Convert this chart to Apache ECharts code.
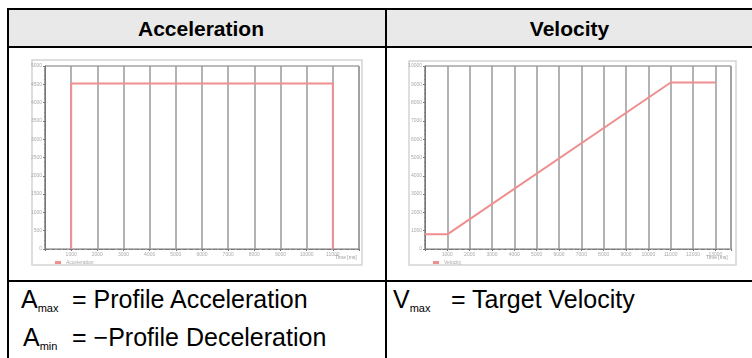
<!DOCTYPE html>
<html>
<head>
<meta charset="utf-8">
<script src="https://cdn.jsdelivr.net/npm/echarts@6/dist/echarts.min.js"></script>
<style>
  html, body { margin: 0; padding: 0; background: #fff; }
  #page { position: relative; width: 752px; height: 358px; overflow: hidden; font-family: "Liberation Sans", Arial, sans-serif; }
  .ln { position: absolute; background: #000; }
  .hd { position: absolute; top: 10px; height: 36px; line-height: 37px; text-align: center; font-weight: bold; font-size: 21px; color: #000; }
  .tx { position: absolute; font-size: 25px; color: #000; white-space: nowrap; }
  .tx sub { font-size: 11px; vertical-align: -4px; }
  #chart { position: absolute; left: 0; top: 0; width: 752px; height: 358px; }
</style>
</head>
<body>
<div id="page">
  <div style="position:absolute;left:9px;top:10px;width:743px;height:36px;background:#e9e9e9"></div>
  <div class="ln" style="left:7px;top:8px;width:745px;height:2px"></div>
  <div class="ln" style="left:7px;top:46px;width:745px;height:2px"></div>
  <div class="ln" style="left:7px;top:280px;width:745px;height:2px"></div>
  <div class="ln" style="left:7px;top:8px;width:2px;height:350px"></div>
  <div class="ln" style="left:385px;top:8px;width:2px;height:350px"></div>
  <div class="hd" style="left:13px;width:376px">Acceleration</div>
  <div class="hd" style="left:387px;width:365px">Velocity</div>
  <div class="tx" style="left:21px;top:285px">A<sub>max</sub></div>
  <div class="tx" style="left:72px;top:285px">= Profile Acceleration</div>
  <div class="tx" style="left:23px;top:323px">A<sub>min</sub></div>
  <div class="tx" style="left:72px;top:323px">= −Profile Deceleration</div>
  <div class="tx" style="left:393px;top:285px">V<sub>max</sub></div>
  <div class="tx" style="left:451px;top:285px">= Target Velocity</div>
  <div id="chart"></div>
</div>
<script>
// acceleration profile (time in ms)
const accelTime = [1000, 1000, 11000, 11000];
const accelValue = [0, 4520, 4520, 0];
// velocity profile
const velTime = [0, 1000, 11000, 13000];
const velValue = [800, 800, 9100, 9100];

const LINE_COLOR = "#ef8f8f";
const GRID_COLOR = "#9a9a9a";
const LABEL = { fontSize: 5, color: "#aaa", fontFamily: "Liberation Sans" };

function xAxisCfg(idx, max) {
  return {
    type: "value", gridIndex: idx, min: 0, max: max, interval: 1000,
    axisLine: { lineStyle: { color: "#777", width: 1, type: "dashed" } },
    axisTick: { show: true, length: 2, lineStyle: { color: "#777" } },
    minorTick: { show: true, splitNumber: 4, length: 1, lineStyle: { color: "#888" } },
    splitLine: { show: true, lineStyle: { color: GRID_COLOR, width: 1.5 } },
    axisLabel: Object.assign({ margin: 3, formatter: v => (v % 1000 === 0 && v > 0 && v < max ? String(v) : "") }, LABEL)
  };
}
function yAxisCfg(idx, max, step) {
  return {
    type: "value", gridIndex: idx, min: 0, max: max, interval: step,
    axisLine: { show: true, lineStyle: { color: "#777", width: 1 } },
    axisTick: { show: true, length: 2, lineStyle: { color: "#777" } },
    minorTick: { show: true, splitNumber: 4, length: 1, lineStyle: { color: "#888" } },
    splitLine: { show: false },
    axisLabel: Object.assign({ margin: 3, formatter: v => String(v) }, LABEL)
  };
}

const chart = echarts.init(document.getElementById("chart"), null, { renderer: "canvas" });
chart.setOption({
  animation: false,
  backgroundColor: "transparent",
  grid: [
    { left: 45, top: 66, width: 314, height: 183, show: true, borderColor: "#777", borderWidth: 1, backgroundColor: "#fff" },
    { left: 425, top: 66, width: 306, height: 183, show: true, borderColor: "#777", borderWidth: 1, backgroundColor: "#fff" }
  ],
  xAxis: [xAxisCfg(0, 12000), xAxisCfg(1, 13700)],
  yAxis: [yAxisCfg(0, 5000, 500), yAxisCfg(1, 10000, 1000)],
  legend: [
    { left: 50, top: 255, itemWidth: 6, itemHeight: 3, icon: "rect", data: ["Acceleration"], textStyle: LABEL },
    { left: 428, top: 255, itemWidth: 6, itemHeight: 3, icon: "rect", data: ["Velocity"], textStyle: LABEL }
  ],
  graphic: [
    { type: "rect", z: -1, shape: { x: 32, y: 60, width: 330, height: 205 }, style: { fill: "#fff", stroke: "#d4d4d4", lineWidth: 1.5 } },
    { type: "rect", z: -1, shape: { x: 409, y: 61, width: 327, height: 204 }, style: { fill: "#fff", stroke: "#d4d4d4", lineWidth: 1.5 } },
    { type: "text", left: 335, top: 255, style: { text: "Time [ms]", fontSize: 5, fill: "#999", fontFamily: "Liberation Sans" } },
    { type: "text", left: 706, top: 255, style: { text: "Time [ms]", fontSize: 5, fill: "#999", fontFamily: "Liberation Sans" } }
  ],
  series: [
    {
      name: "Acceleration", type: "line", xAxisIndex: 0, yAxisIndex: 0, symbol: "none",
      color: LINE_COLOR, lineStyle: { width: 2, color: LINE_COLOR },
      data: accelTime.map((t, i) => [t, accelValue[i]])
    },
    {
      name: "Velocity", type: "line", xAxisIndex: 1, yAxisIndex: 1, symbol: "none",
      color: LINE_COLOR, lineStyle: { width: 2, color: LINE_COLOR },
      data: velTime.map((t, i) => [t, velValue[i]])
    }
  ]
});
</script>
</body>
</html>
